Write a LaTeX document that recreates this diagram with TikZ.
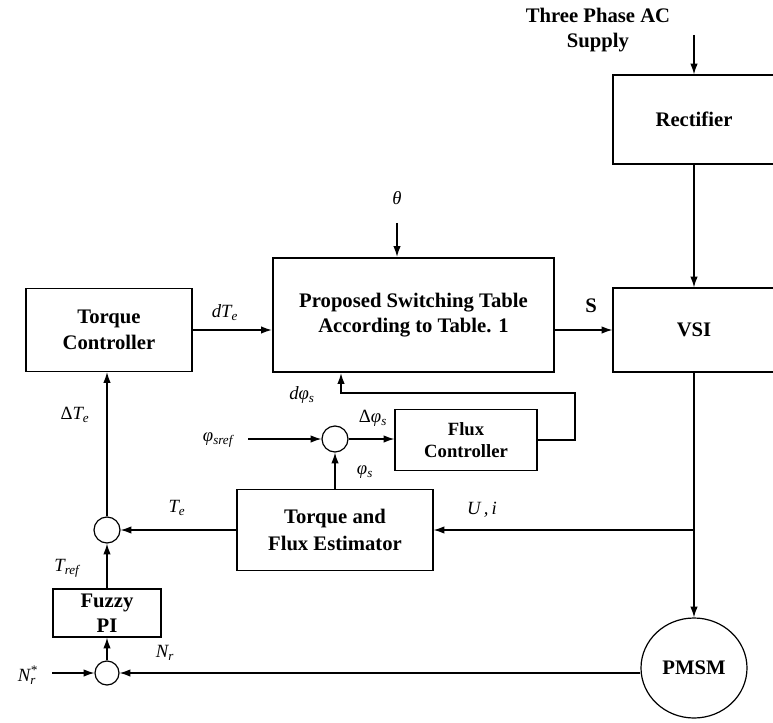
\documentclass[tikz,border=0pt]{standalone}
\usepackage{fontspec}
\setmainfont{Liberation Serif}
\usetikzlibrary{arrows.meta,shapes.geometric,calc}
\newcommand\lsub[2]{#1\textsubscript{#2}}
\begin{document}
\begin{tikzpicture}[x=0.75pt,y=-0.75pt,
 box/.style={draw, line width=0.9pt, align=center, font=\fontsize{15.5}{19}\selectfont\bfseries, inner sep=0pt},
 sumj/.style={draw, circle, line width=0.9pt, minimum size=26*0.75pt, inner sep=0pt},
 lbl/.style={font=\fontsize{14}{16}\selectfont\itshape, inner sep=0pt},
 arr/.style={line width=0.9pt, -{Latex[length=8pt,width=5.5pt]}}]
\useasboundingbox (0,0) rectangle (773,723);
\clip (0,0) rectangle (773,723);
% blocks
\node[box, minimum width=166*0.75pt, minimum height=83*0.75pt] (tc) at (109,330) {Torque\\Controller};
\node[box, line width=1.8pt, minimum width=281*0.75pt, minimum height=114*0.75pt] (st) at (413.5,315) {Proposed Switching Table\\According to Table. 1};
\node[box, minimum width=162*0.75pt, minimum height=89*0.75pt] (rect) at (694,119.5) {Rectifier};
\node[box, minimum width=162*0.75pt, minimum height=84*0.75pt] (vsi) at (694,330) {VSI};
\node[box, minimum width=142*0.75pt, minimum height=61*0.75pt, font=\fontsize{14}{17}\selectfont\bfseries] (fc) at (466,440) {Flux\\Controller};
\node[box, minimum width=196*0.75pt, minimum height=81*0.75pt, font=\fontsize{15.5}{20}\selectfont\bfseries] (est) at (335,530) {Torque and\\Flux Estimator};
\node[box, minimum width=108*0.75pt, minimum height=48*0.75pt, font=\fontsize{15.5}{18.5}\selectfont\bfseries] (fz) at (107,613) {Fuzzy\\PI};
\node[box, ellipse, minimum width=106*0.75pt, minimum height=100*0.75pt] (pm) at (694,668) {PMSM};
\node[sumj] (j1) at (107,530) {};
\node[sumj] (j2) at (335,439) {};
\node[sumj, minimum size=24*0.75pt] (j3) at (107,673) {};
% texts
\node[font=\fontsize{15.5}{19}\selectfont\bfseries, align=center, inner sep=0pt] (sup) at (598,30) {Three Phase AC\\Supply};
\node[lbl] (th) at (397,198) {θ};
\node[lbl] (ldt) at (225,313) {\lsub{dT}{e}};
\node[font=\fontsize{15.5}{16}\selectfont\bfseries, inner sep=0pt] (ls) at (591,306) {S};
\node[lbl] (ldp) at (302,395) {\lsub{dφ}{s}};
\node[lbl] (ldelp) at (373,418) {\textup{Δ}\lsub{φ}{s}};
\node[lbl] (lpref) at (218,440) {\lsub{φ}{sref}};
\node[lbl] (lps) at (365,472) {\lsub{φ}{s}};
\node[lbl] (ldte) at (75,415) {\textup{Δ}\lsub{T}{e}};
\node[lbl] (lte) at (177,508) {\lsub{T}{e}};
\node[lbl] (lui) at (482,510) {U\,,\,i};
\node[lbl] (ltref) at (67,568) {\lsub{T}{ref}};
\node[lbl] (lnrs) at (27,675) {N\rlap{\textsuperscript{*}}\textsubscript{r}};
\node[lbl] (lnr) at (165,653) {\lsub{N}{r}};
% free ends
\coordinate (acin) at (694,35);
\coordinate (thin) at (397,223);
\coordinate (psin) at (248,439);
\coordinate (nin) at (52,673);
\coordinate (fb1) at (575,440);
\coordinate (fb2) at (341,393);
\coordinate (ui) at (694,530);
% connectors
\draw[arr] (acin) -- (rect.north);
\draw[arr] (rect.south) -- (vsi.north);
\draw[arr] (thin) -- (thin |- st.north);
\draw[arr] (tc.east) -- (tc.east -| st.west);
\draw[arr] (st.east |- vsi.west) -- (vsi.west);
\draw[arr] (vsi.south) -- (pm.north);
\draw[arr] (ui) -- (est.east);
\draw[arr] (est.west) -- (j1.east);
\draw[arr] (j1.north) -- (j1.north |- tc.south);
\draw[arr] (fz.north) -- (j1.south);
\draw[arr] (j3.north) -- (fz.south);
\draw[arr] (nin) -- (j3.west);
\draw[arr] (j3.east -| pm.west) -- (j3.east);
\draw[arr] (psin) -- (j2.west);
\draw[arr] (j2.east) -- (j2.east -| fc.west);
\draw[arr] (est.north) -- (j2.south);
\draw[arr] (fc.east) -- (fb1) |- (fb2) -- (fb2 |- st.south);
\end{tikzpicture}
\end{document}
